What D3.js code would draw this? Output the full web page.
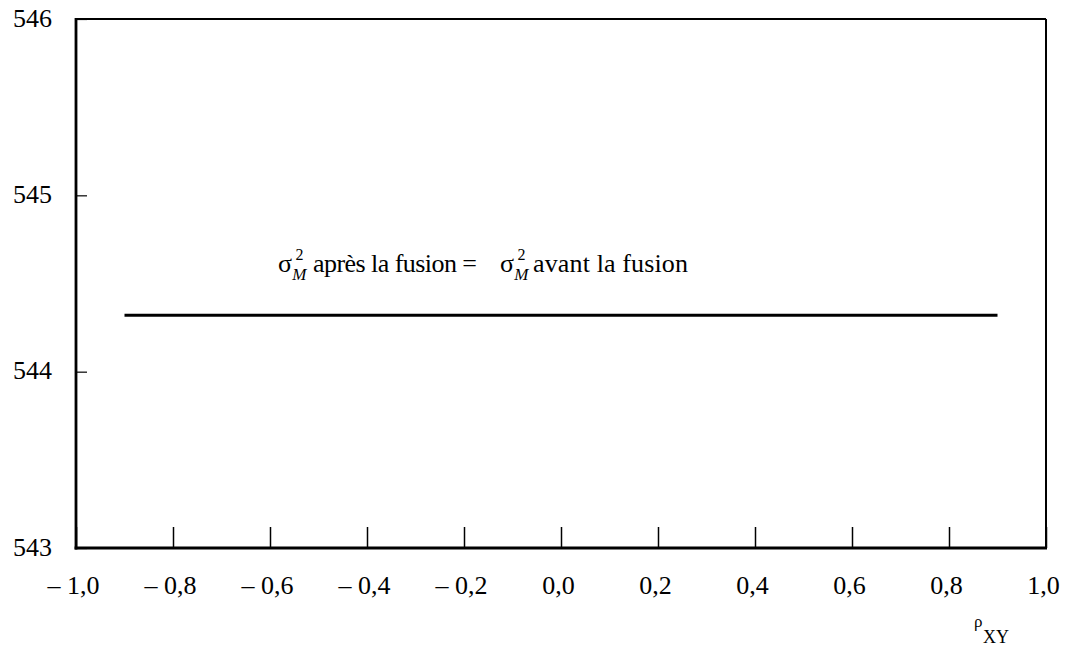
<!DOCTYPE html>
<html>
<head>
<meta charset="utf-8">
<script src="https://cdn.jsdelivr.net/npm/d3@7"></script>
<style>
  html, body { margin: 0; padding: 0; background: #fff; }
  svg { display: block; }
</style>
</head>
<body>
<svg id="chart" width="1067" height="646"></svg>
<script>
// ---- data ----
const rhoValues = [-0.9, 0.9];
const varianceValues = [544.32, 544.32];
const xTickValues = [-1.0, -0.8, -0.6, -0.4, -0.2, 0.0, 0.2, 0.4, 0.6, 0.8, 1.0];
const yTickValues = [543, 544, 545, 546];
const annotationLeft = "après la fusion =";
const annotationRight = "avant la fusion";
const xAxisLabel = ["ρ", "XY"];

// ---- layout ----
const SERIF = "Liberation Serif";
const svg = d3.select("#chart");
const x = d3.scaleLinear().domain([-1, 1]).range([76, 1046]);
const y = d3.scaleLinear().domain([543, 546]).range([548, 19]);
const FS = 26;

// axes with inward ticks
const yAxis = d3.axisLeft(y).tickValues(yTickValues).tickSize(-11).tickPadding(24)
  .tickFormat(d3.format("d"));
const gy = svg.append("g").attr("transform", `translate(${x.range()[0]},0)`).call(yAxis)
  .attr("font-family", SERIF);
gy.select(".domain").remove();
gy.selectAll("line").attr("stroke", "#000").attr("stroke-width", 1.2);
gy.selectAll("text").attr("font-size", FS).attr("fill", "#000").attr("dy", "0.27em")
  .attr("font-family", SERIF);

const fmt = d => (d < 0 ? "\u2013 " : "") + Math.abs(d).toFixed(1).replace(".", ",");
const xAxis = d3.axisBottom(x).tickValues(xTickValues).tickSize(-21).tickPadding(28)
  .tickFormat(fmt);
const gx = svg.append("g").attr("transform", `translate(0,${y.range()[0]})`).call(xAxis)
  .attr("font-family", SERIF);
gx.select(".domain").remove();
gx.selectAll("line").attr("stroke", "#000").attr("stroke-width", 1.5);
gx.selectAll("text").attr("font-size", FS).attr("fill", "#000")
  .attr("font-family", SERIF).attr("dx", -3);

// frame
const [x0, x1] = x.range();
const [yb, yt] = y.range();
svg.append("line").attr("x1", x0).attr("x2", x1).attr("y1", yt).attr("y2", yt)
  .attr("stroke", "#000").attr("stroke-width", 2);
svg.append("line").attr("x1", x1).attr("x2", x1).attr("y1", yt).attr("y2", yb)
  .attr("stroke", "#000").attr("stroke-width", 2);
svg.append("line").attr("x1", x0).attr("x2", x0).attr("y1", yt - 1).attr("y2", yb + 1.5)
  .attr("stroke", "#000").attr("stroke-width", 2.8);
svg.append("line").attr("x1", x0 - 1.4).attr("x2", x1 + 1).attr("y1", yb).attr("y2", yb)
  .attr("stroke", "#000").attr("stroke-width", 2.8);

// series line
const line = d3.line().x((d, i) => x(rhoValues[i])).y(d => y(d));
svg.append("path").datum(varianceValues).attr("d", line)
  .attr("fill", "none").attr("stroke", "#000").attr("stroke-width", 3);

// annotation: σ²_M après la fusion = σ²_M avant la fusion
const ann = svg.append("g").attr("font-family", SERIF).attr("fill", "#000");
const base = 272;
function sigmaM(xs) {
  const s = ann.append("text").attr("x", xs).attr("y", base).attr("font-size", FS)
    .attr("font-family", SERIF).text("σ");
  const w = s.node().getComputedTextLength();
  ann.append("text").attr("x", xs + 17.5).attr("y", base - 12).attr("font-size", 16)
    .attr("font-family", SERIF).text("2");
  ann.append("text").attr("x", Math.max(xs + 13.5, xs + w + 0.2)).attr("y", base + 8).attr("font-size", 17)
    .attr("font-family", SERIF).attr("font-style", "italic").text("M");
}
sigmaM(278);
ann.append("text").attr("x", 313).attr("y", base).attr("font-size", FS)
  .attr("font-family", SERIF).attr("textLength", 164).attr("lengthAdjust", "spacing")
  .text(annotationLeft);
sigmaM(500);
ann.append("text").attr("x", 533).attr("y", base).attr("font-size", FS)
  .attr("font-family", SERIF).attr("textLength", 155).attr("lengthAdjust", "spacing")
  .text(annotationRight);

// x-axis label ρ_XY
svg.append("text").attr("x", 974).attr("y", 627).attr("font-size", 17).attr("fill", "#000")
  .attr("font-family", SERIF).text(xAxisLabel[0]);
svg.append("text").attr("x", 983).attr("y", 643).attr("font-size", 18).attr("fill", "#000")
  .attr("font-family", SERIF).text(xAxisLabel[1]);
</script>
</body>
</html>
